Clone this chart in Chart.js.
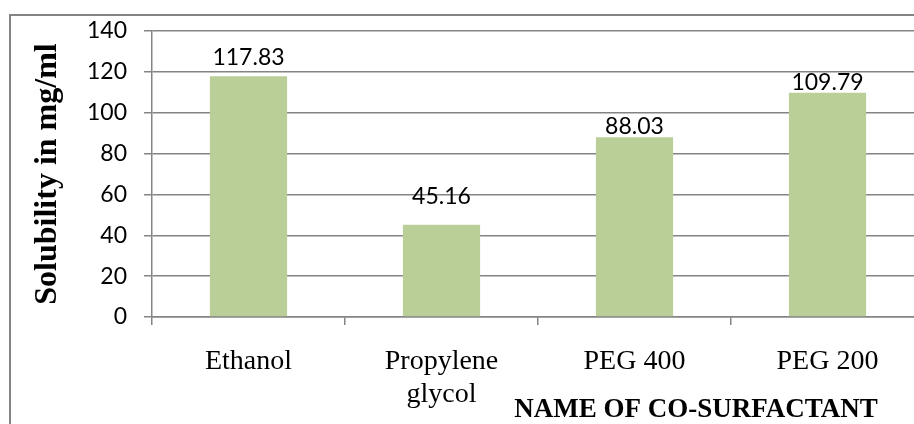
<!DOCTYPE html>
<html>
<head>
<meta charset="utf-8">
<script src="https://cdn.jsdelivr.net/npm/chart.js@4"></script>
<style>
  html, body { margin: 0; padding: 0; background: #fff; overflow: hidden; }
  #wrap { width: 940px; height: 430px; position: relative; }
</style>
</head>
<body>
<div id="wrap"><canvas id="chart"></canvas></div>
<script>
const categories = ['Ethanol', ['Propylene', 'glycol'], 'PEG 400', 'PEG 200'];
const solubility = [117.83, 45.16, 88.03, 109.79];
const yTicks = [0, 20, 40, 60, 80, 100, 120, 140];
// how far each value label sits above its bar (labels were nudged by hand in the original)
const labelOffsets = [19, 28, 11, 10];

const gray = '#848484';

// outer frame of the chart object
const framePlugin = {
  id: 'frame',
  beforeDraw(chart) {
    const ctx = chart.ctx;
    ctx.save();
    ctx.fillStyle = '#fff';
    ctx.fillRect(0, 0, chart.width, chart.height);
    ctx.strokeStyle = gray;
    ctx.lineWidth = 2;
    ctx.strokeRect(10, 15, chart.width - 14, chart.height - 2);
    ctx.restore();
  }
};

// value labels above bars + x axis title
const labelPlugin = {
  id: 'labels',
  afterDatasetsDraw(chart) {
    const ctx = chart.ctx;
    const meta = chart.getDatasetMeta(0);
    ctx.save();
    ctx.fillStyle = '#000';
    ctx.font = '23px Lato';
    ctx.textAlign = 'center';
    ctx.textBaseline = 'middle';
    meta.data.forEach((bar, i) => {
      ctx.fillText(solubility[i].toFixed(2), bar.x, bar.y - labelOffsets[i]);
    });
    ctx.font = 'bold 27px "Liberation Serif"';
    ctx.fillText('NAME OF CO-SURFACTANT', 696, 410);
    ctx.restore();
  }
};

new Chart(document.getElementById('chart'), {
  type: 'bar',
  data: {
    labels: categories,
    datasets: [{
      data: solubility,
      backgroundColor: '#BACF97',
      borderWidth: 0,
      barPercentage: 0.4,
      categoryPercentage: 1.0
    }]
  },
  options: {
    responsive: true,
    maintainAspectRatio: false,
    animation: false,
    layout: { padding: { left: 12, top: 31, right: 16, bottom: 0 } },
    plugins: {
      legend: { display: false },
      tooltip: { enabled: false }
    },
    scales: {
      x: {
        afterFit: (s) => { s.height = 430 - 317; },
        grid: { drawOnChartArea: false, drawTicks: true, tickLength: 8, color: gray, lineWidth: 1.5 },
        border: { color: gray, width: 1.5 },
        ticks: {
          color: '#000',
          padding: 21,
          font: { family: '"Liberation Serif"', size: 28, lineHeight: 1.15 }
        }
      },
      y: {
        min: 0,
        max: 140,
        afterFit: (s) => { s.width = 140; },
        afterBuildTicks: (s) => { s.ticks = yTicks.map(v => ({ value: v })); },
        grid: { color: gray, lineWidth: 1.5, tickLength: 8 },
        border: { color: gray, width: 1.5 },
        ticks: {
          color: '#000',
          padding: 17,
          font: { family: 'Lato', size: 23 }
        },
        title: {
          display: true,
          text: 'Solubility in mg/ml',
          color: '#000',
          padding: { top: 17, bottom: 0 },
          font: { family: '"Liberation Serif"', size: 32, weight: 'bold', lineHeight: 1.2 }
        }
      }
    }
  },
  plugins: [framePlugin, labelPlugin]
});
</script>
</body>
</html>
